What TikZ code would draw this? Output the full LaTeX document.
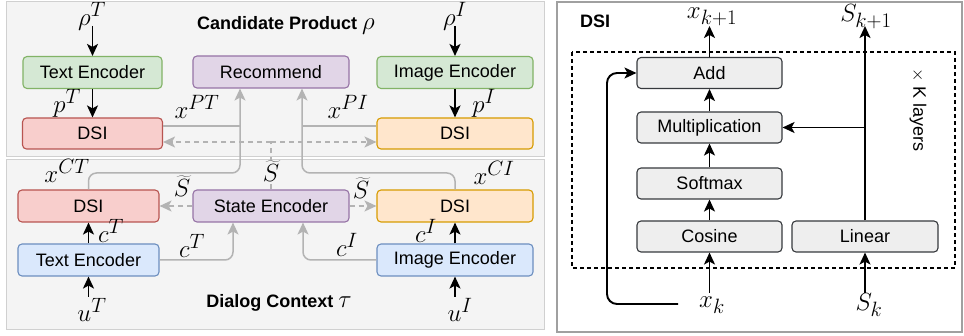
\documentclass[tikz,border=0pt]{standalone}
\usepackage{fontspec}
\setmainfont{Liberation Sans}
\usetikzlibrary{arrows.meta}
\definecolor{grnF}{HTML}{D5E8D4}\definecolor{grnD}{HTML}{82B366}
\definecolor{purF}{HTML}{E1D5E7}\definecolor{purD}{HTML}{9673A6}
\definecolor{redF}{HTML}{F8CECC}\definecolor{redD}{HTML}{B85450}
\definecolor{orgF}{HTML}{FFE6CC}\definecolor{orgD}{HTML}{D79B00}
\definecolor{bluF}{HTML}{DAE8FC}\definecolor{bluD}{HTML}{6C8EBF}
\definecolor{gryF}{HTML}{EEEEEE}\definecolor{gryD}{HTML}{36393D}
\definecolor{panelbg}{HTML}{F4F4F4}\definecolor{panelln}{HTML}{D0D0D0}
\definecolor{rpln}{HTML}{A0A0A0}\definecolor{cgray}{HTML}{B3B3B3}
\newcommand\myfs{\fontsize{18}{21}\selectfont}
\newcommand\mathfs{\fontsize{24.88}{28}\selectfont}
\begin{document}
\begin{tikzpicture}[x=1pt,y=-1pt,
  every node/.style={font=\myfs},
  box/.style={draw, rounded corners=4pt, line width=1.1pt, inner sep=0pt, minimum height=32pt},
  grnbox/.style={box, fill=grnF, draw=grnD},
  purbox/.style={box, fill=purF, draw=purD},
  redbox/.style={box, fill=redF, draw=redD},
  orgbox/.style={box, fill=orgF, draw=orgD},
  blubox/.style={box, fill=bluF, draw=bluD},
  grybox/.style={box, fill=gryF, draw=gryD, minimum width=145pt, minimum height=31pt},
  lbl/.style={inner sep=0.5pt, font=\mathfs},
  ttl/.style={font=\myfs\bfseries},
  tip/.style={-{Stealth[length=12pt,width=11pt,inset=3pt]}},
  ar/.style={tip, line width=1.9pt, draw=black},
  gc/.style={line width=1.5pt, draw=cgray, rounded corners=8pt},
  gca/.style={gc, tip},
  gd/.style={gc, dash pattern=on 5pt off 4pt}
]
\useasboundingbox (0,0) rectangle (964,336);
% panels
\filldraw[fill=panelbg, draw=panelln, line width=1pt] (6,2) rectangle (544,157);
\filldraw[fill=panelbg, draw=panelln, line width=1pt] (6,160) rectangle (544,330);
\draw[draw=rpln, line width=1.2pt] (557,2) rectangle (962,332);

% ---------- left: candidate product ----------
\node[ttl] (tcand) at (286,25) {Candidate Product {\mathfs$\rho$}};
\node[lbl] (rhoT) at (92,16) {$\rho^T$};
\node[lbl] (rhoI) at (455,16) {$\rho^I$};
\coordinate (rhoTs) at (92.5,26);
\coordinate (rhoIs) at (455,26);
\node[grnbox, minimum width=139pt] (teT) at (92.5,72.5) {Text Encoder};
\node[purbox, minimum width=156pt] (rec) at (271,72) {Recommend};
\node[grnbox, minimum width=156pt] (ieT) at (455,72.5) {Image Encoder};
\node[redbox, minimum width=140pt, minimum height=31pt] (dsiPT) at (92.5,133.5) {DSI};
\node[orgbox, minimum width=156pt, minimum height=31pt] (dsiPI) at (455,133.5) {DSI};
\draw[ar] (rhoTs) -- (teT.north);
\draw[ar] (rhoIs) -- (ieT.north);
\draw[ar] (teT.south) -- (dsiPT.north);
\draw[ar] (ieT.south) -- (dsiPI.north);
\node[lbl] (pT) at (67,103) {$p^T$};
\node[lbl] (pI) at (484,103) {$p^I$};
\node[lbl] (xPT) at (197,107) {$x^{PT}$};
\node[lbl] (xPI) at (348,107) {$x^{PI}$};

% ---------- left: dialog context ----------
\node[ttl] (tdia) at (279,303) {Dialog Context {\mathfs$\tau$}};
\node[redbox, minimum width=141pt] (dsiCT) at (88.5,206) {DSI};
\node[purbox, minimum width=156pt] (se) at (271,206) {State Encoder};
\node[orgbox, minimum width=156pt] (dsiCI) at (455,206) {DSI};
\node[blubox, minimum width=141pt] (teC) at (88.5,260) {Text Encoder};
\node[blubox, minimum width=156pt] (ieC) at (455,260) {Image Encoder};
\node[lbl] (uT) at (92,310) {$u^T$};
\node[lbl] (uI) at (460,310) {$u^I$};
\coordinate (uTs) at (88.5,297);
\coordinate (uIs) at (455,297);
\draw[ar] (uTs) -- (teC.south);
\draw[ar] (uIs) -- (ieC.south);
\draw[ar] (teC.north) -- (dsiCT.south);
\draw[ar] (ieC.north) -- (dsiCI.south);
\node[lbl] (cT1) at (111,231) {$c^T$};
\node[lbl] (cI1) at (426,231) {$c^I$};

% gray connectors to Recommend
\coordinate (jL) at (240,126);
\coordinate (jR) at (302,126);
\coordinate (kL) at (240,173);
\coordinate (kR) at (302,173);
\draw[gca] (dsiCT.north) |- (kL) -- (kL |- rec.south);
\draw[gca] (dsiCI.north) |- (kR) -- (kR |- rec.south);
\draw[gc] (dsiPT.east |- jL) -- (jL);
\draw[gc] (dsiPI.west |- jR) -- (jR);
\node[lbl] (xCT) at (67,171) {$x^{CT}$};
\node[lbl] (xCI) at (494,173) {$x^{CI}$};

% gray connectors to State Encoder
\coordinate (mL) at (233,260);
\coordinate (mR) at (303,260);
\draw[gca] (teC.east) -- (mL) -- (mL |- se.south);
\draw[gca] (ieC.west) -- (mR) -- (mR |- se.south);
\node[lbl] (cT2) at (192,246) {$c^T$};
\node[lbl] (cI2) at (347,245) {$c^I$};

% dashed S~ connectors
\coordinate (dS) at (271,142);
\draw[gd] (se.north) -- (dS);
\draw[gd, tip] (dS) -- (dsiPT.east |- dS);
\draw[gd, tip] (dS) -- (dsiPI.west |- dS);
\draw[gd, tip] (se.west) -- (dsiCT.east |- se.west);
\draw[gd, tip] (se.east) -- (dsiCI.west |- se.east);
\node[lbl, fill=panelbg] (sM) at (271,171) {$\widetilde{S}$};
\node[lbl] (sL) at (182,186) {$\widetilde{S}$};
\node[lbl] (sR) at (361,188) {$\widetilde{S}$};

% ---------- right: DSI ----------
\node[ttl] (tdsi) at (595,21) {DSI};
\draw[line width=1.2pt, dash pattern=on 4pt off 3pt] (572,52) rectangle (955,268);
\node[grybox] (add) at (709.5,73) {Add};
\node[grybox] (mul) at (709.5,127.5) {Multiplication};
\node[grybox] (sm) at (709.5,183.5) {Softmax};
\node[grybox] (cos) at (709.5,236.5) {Cosine};
\node[grybox, minimum width=146pt] (lin) at (865,236.5) {Linear};
\node[lbl] (xk1) at (712,17) {$x_{k+1}$};
\node[lbl] (sk1) at (866,17) {$S_{k+1}$};
\node[lbl] (xk) at (712,305) {$x_k$};
\node[lbl] (sk) at (869,305) {$S_k$};
\coordinate (xk1e) at (709.5,26);
\coordinate (sk1e) at (865,26);
\coordinate (xks) at (709.5,293);
\coordinate (sks) at (865,293);
\coordinate (xkl) at (678,304);
\coordinate (skipc) at (607,73);
\coordinate (br) at (865,127.5);
\node[rotate=-90] (klay) at (918,110) {$\times$ K layers};
\draw[ar] (add.north) -- (xk1e);
\draw[ar] (mul.north) -- (add.south);
\draw[ar] (sm.north) -- (mul.south);
\draw[ar] (cos.north) -- (sm.south);
\draw[ar] (xks) -- (cos.south);
\draw[ar] (sks) -- (lin.south);
\draw[ar] (lin.north) -- (sk1e);
\draw[ar] (br) -- (mul.east);
\draw[ar, rounded corners=10pt] (xkl) -| (skipc) -- (add.west);
\end{tikzpicture}
\end{document}
